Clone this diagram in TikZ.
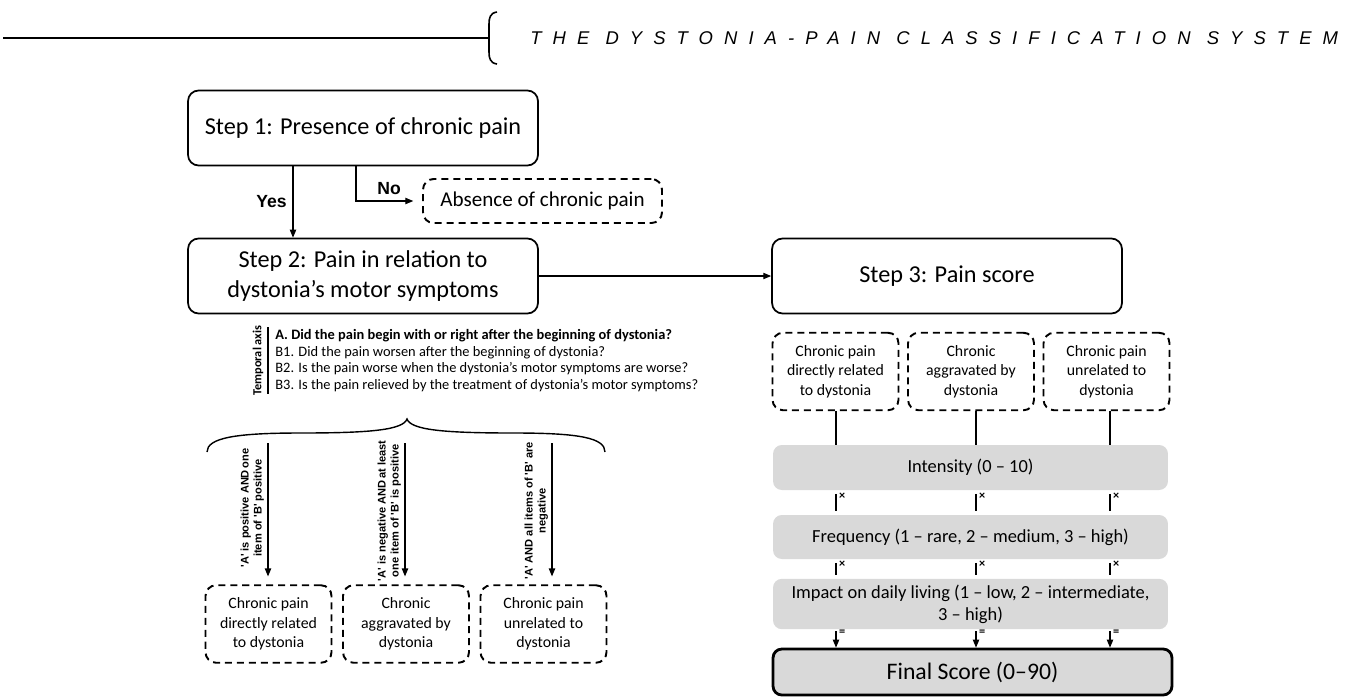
\documentclass[tikz,border=0pt]{standalone}
\usepackage{fontspec}
\setmainfont{Carlito}
\newfontfamily\arialfont{Liberation Sans}
\newfontfamily\titlefont[LetterSpace=60]{Liberation Sans}
\usetikzlibrary{arrows.meta}
\definecolor{boxgray}{HTML}{D9D9D9}
\newcommand\sq{\textquotesingle}

\begin{document}
\begin{tikzpicture}[x=0.02cm,y=-0.02cm,
  stepbox/.style={draw,rounded corners=6pt,line width=1pt,minimum width=7cm,minimum height=1.5cm,align=center,font=\fontsize{13.8}{17}\selectfont},
  dashbox/.style={draw,dash pattern=on 4pt off 2.8pt,rounded corners=6pt,line width=1.1pt,minimum width=2.52cm,minimum height=1.55cm,align=center,font=\fontsize{9}{11}\selectfont},
  graybox/.style={fill=boxgray,rounded corners=5pt,minimum width=7.9cm,minimum height=0.9cm,align=center,font=\fontsize{10.5}{12.5}\selectfont},
  arr/.style={-{Triangle[length=4.5pt,width=3.6pt]},line width=0.6pt},
  cond/.style={rotate=90,anchor=south,align=center,inner sep=2pt,font=\arialfont\bfseries\fontsize{6.3}{7.4}\selectfont},
  sign/.style={right,inner sep=1.5pt,font=\bfseries\fontsize{7}{7}\selectfont}]
\useasboundingbox (0,0) rectangle (1354,697);
% header
\draw[line width=1.7pt] (3,38) -- (489,38);
\draw[line width=0.9pt] (497,12) .. controls (490,13) and (489,18) .. (489,24) -- (489,52) .. controls (489,58) and (490,63) .. (497,64);
\node[anchor=west,inner sep=0pt,font=\titlefont\itshape\fontsize{10.5}{12}\selectfont] (title) at (530,38) {THE DYSTONIA-PAIN CLASSIFICATION SYSTEM};

% steps
\node[stepbox] (step1) at (363,128) {Step 1: Presence of chronic pain};
\node[stepbox] (step2) at (363,276) {Step 2: Pain in relation to\\dystonia’s motor symptoms};
\node[stepbox] (step3) at (947,276) {Step 3: Pain score};
\node[dashbox,minimum width=4.78cm,minimum height=0.88cm,font=\fontsize{12}{14}\selectfont] (absent) at (542.5,201) {Absence of chronic pain};

\coordinate (yesx) at (293,0);
\coordinate (nox) at (356,0);
\draw[arr] (step1.south -| yesx) -- node[left,font=\arialfont\bfseries\fontsize{10}{12}\selectfont] {Yes} (step2.north -| yesx);
\draw[arr,shorten >=5pt] (step1.south -| nox) |- node[pos=0.75,above,font=\arialfont\bfseries\fontsize{10}{12}\selectfont] {No} (absent.west);
\draw[arr] (step2) -- (step3);

% temporal axis questions
\node[anchor=north west,align=left,inner xsep=4pt,inner ysep=1pt,font=\fontsize{8.2}{9.6}\selectfont] (quest) at (268,327)
  {\textbf{A. Did the pain begin with or right after the beginning of dystonia?}\\
   B1. Did the pain worsen after the beginning of dystonia?\\
   B2. Is the pain worse when the dystonia’s motor symptoms are worse?\\
   B3. Is the pain relieved by the treatment of dystonia’s motor symptoms?};
\draw[line width=1pt] (quest.north west) -- (quest.south west);
\node[rotate=90,anchor=south,inner sep=2.5pt,font=\bfseries\fontsize{7}{8}\selectfont] (taxis) at (quest.west) {Temporal axis};

% brace
\coordinate (brL) at (207,452);
\coordinate (brtip) at (407,419);
\coordinate (brR) at (605,452);
\draw[line width=0.8pt] (brL) .. controls (207,438) and (235,433) .. (300,433) .. controls (370,433) and (403,430) .. (brtip)
  .. controls (411,430) and (444,433) .. (514,433) .. controls (580,433) and (605,438) .. (brR);

% classification (left)
\node[dashbox] (left1) at (268.5,624) {Chronic pain\\directly related\\to dystonia};
\node[dashbox] (left2) at (406,624) {Chronic\\aggravated by\\dystonia};
\node[dashbox] (left3) at (543.5,624) {Chronic pain\\unrelated to\\dystonia};
\coordinate (a1) at (268,443);
\coordinate (a2) at (405,443);
\coordinate (a3) at (552,443);
\draw[arr,shorten >=4.5pt] (a1) -- node[cond,pos=0.46] {\sq A\sq\ is positive AND\,one\\item of \sq B\sq\ positive} (left1.north -| a1);
\draw[arr,shorten >=4.5pt] (a2) -- node[cond,pos=0.48] {\sq A\sq\ is negative AND\,at least\\one item of \sq B\sq\ is positive} (left2.north -| a2);
\draw[arr,shorten >=4.5pt] (a3) -- node[cond,pos=0.48] {\sq A\sq\ AND all items of \sq B\sq\ are\\negative} (left3.north -| a3);

% pain score (right)
\node[dashbox] (right1) at (835.5,371.5) {Chronic pain\\directly related\\to dystonia};
\node[dashbox] (right2) at (971,371.5) {Chronic\\aggravated by\\dystonia};
\node[dashbox] (right3) at (1106.5,371.5) {Chronic pain\\unrelated to\\dystonia};
\node[graybox] (inten) at (970.5,467.5) {Intensity (0 – 10)};
\node[graybox,minimum height=0.88cm] (freq) at (970.5,537) {Frequency (1 – rare, 2 – medium, 3 – high)};
\node[graybox,minimum height=0.92cm] (impact) at (970.5,604) {Impact on daily living (1 – low, 2 – intermediate,\\3 – high)};
\node[graybox,draw,line width=1.6pt,minimum width=7.98cm,minimum height=0.92cm,font=\fontsize{13.5}{16}\selectfont] (final) at (972.5,672) {Final Score (0–90)};

\coordinate (c1) at (836,0);
\coordinate (c2) at (976,0);
\coordinate (c3) at (1110,0);
\foreach \b/\c in {right1/c1,right2/c2,right3/c3} {
  \draw[line width=0.6pt] (\b.south -| \c) -- (inten.north -| \c);
  \draw[line width=0.6pt,shorten <=2pt,shorten >=2pt] (inten.south -| \c) -- node[sign,pos=0.25] {×} (freq.north -| \c);
  \draw[line width=0.6pt,shorten <=2pt,shorten >=2pt] (freq.south -| \c) -- node[sign,pos=0.25] {×} (impact.north -| \c);
  \draw[arr,shorten <=1pt] (impact.south -| \c) -- node[sign,pos=0.2] {=} (final.north -| \c);
}
\end{tikzpicture}
\end{document}
